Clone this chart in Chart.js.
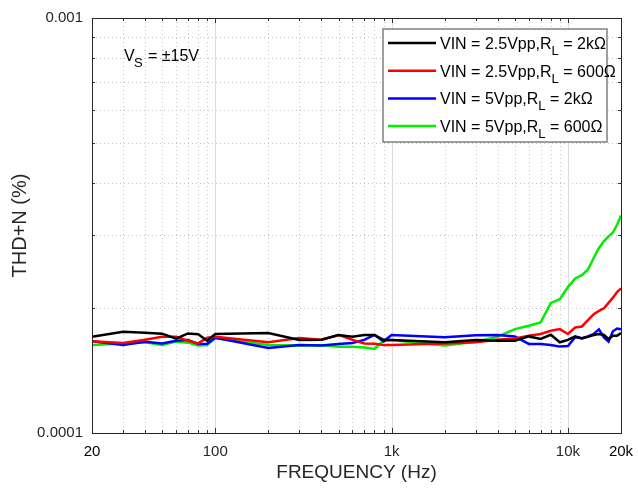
<!DOCTYPE html>
<html>
<head>
<meta charset="utf-8">
<script src="https://cdn.jsdelivr.net/npm/chart.js@4.4.1/dist/chart.umd.min.js"></script>
<style>
  body { margin: 0; background: #fff; }
  #wrap { width: 638px; height: 488px; }
</style>
</head>
<body>
<div id="wrap"><canvas id="thdChart" width="638" height="488"></canvas></div>
<script>
// frequency points (Hz)
const freq = [20, 30, 40, 50, 60, 70, 80, 90, 100, 200, 300, 400, 500, 600, 700, 800, 900,
  1000, 2000, 3000, 4000, 5000, 6000, 7000, 8000, 9000, 10000, 11000, 12000, 13000, 14000,
  15000, 16000, 17000, 18000, 19000, 20000];

// THD+N (%) per curve
const vin25_2k = [1.706e-4, 1.754e-4, 1.745e-4, 1.735e-4, 1.687e-4, 1.737e-4, 1.729e-4, 1.669e-4, 1.732e-4,
  1.742e-4, 1.676e-4, 1.678e-4, 1.723e-4, 1.706e-4, 1.723e-4, 1.723e-4, 1.676e-4, 1.676e-4, 1.654e-4,
  1.676e-4, 1.669e-4, 1.669e-4, 1.709e-4, 1.685e-4, 1.725e-4, 1.654e-4, 1.676e-4, 1.709e-4, 1.690e-4,
  1.706e-4, 1.723e-4, 1.732e-4, 1.723e-4, 1.685e-4, 1.716e-4, 1.716e-4, 1.742e-4];
const vin25_600 = [1.663e-4, 1.647e-4, 1.678e-4, 1.706e-4, 1.706e-4, 1.669e-4, 1.644e-4, 1.697e-4, 1.706e-4,
  1.654e-4, 1.694e-4, 1.678e-4, 1.723e-4, 1.676e-4, 1.644e-4, 1.641e-4, 1.630e-4, 1.630e-4, 1.644e-4,
  1.654e-4, 1.678e-4, 1.690e-4, 1.716e-4, 1.732e-4, 1.764e-4, 1.780e-4, 1.732e-4, 1.796e-4, 1.806e-4,
  1.871e-4, 1.934e-4, 1.969e-4, 1.997e-4, 2.058e-4, 2.119e-4, 2.186e-4, 2.231e-4];
const vin5_2k = [1.663e-4, 1.630e-4, 1.660e-4, 1.644e-4, 1.669e-4, 1.676e-4, 1.639e-4, 1.641e-4, 1.697e-4,
  1.603e-4, 1.630e-4, 1.624e-4, 1.639e-4, 1.648e-4, 1.676e-4, 1.723e-4, 1.663e-4, 1.723e-4, 1.700e-4,
  1.719e-4, 1.723e-4, 1.709e-4, 1.639e-4, 1.639e-4, 1.630e-4, 1.615e-4, 1.621e-4, 1.702e-4, 1.692e-4,
  1.709e-4, 1.732e-4, 1.777e-4, 1.700e-4, 1.660e-4, 1.759e-4, 1.786e-4, 1.777e-4];
const vin5_600 = [1.630e-4, 1.644e-4, 1.654e-4, 1.630e-4, 1.660e-4, 1.651e-4, 1.624e-4, 1.630e-4, 1.692e-4,
  1.630e-4, 1.624e-4, 1.627e-4, 1.614e-4, 1.614e-4, 1.608e-4, 1.594e-4, 1.669e-4, 1.676e-4, 1.624e-4,
  1.660e-4, 1.706e-4, 1.780e-4, 1.813e-4, 1.846e-4, 2.058e-4, 2.100e-4, 2.247e-4, 2.358e-4, 2.401e-4,
  2.477e-4, 2.641e-4, 2.791e-4, 2.896e-4, 2.977e-4, 3.043e-4, 3.175e-4, 3.342e-4];

// legend text: main part, subscript, tail
const legendMain = ['VIN = 2.5Vpp,R', 'VIN = 2.5Vpp,R', 'VIN = 5Vpp,R', 'VIN = 5Vpp,R'];
const legendTail = [' = 2k\u03A9', ' = 600\u03A9', ' = 2k\u03A9', ' = 600\u03A9'];
const lineColors = ['#000000', '#ff0000', '#0000ff', '#00ee00'];

// tick labels
const xTickValues = [20, 100, 1000, 10000, 20000];
const xTickText = ['20', '100', '1k', '10k', '20k'];
const yTickValues = [0.0001, 0.001];
const yTickText = ['0.0001', '0.001'];

const FONT = "'Liberation Sans', Arial, sans-serif";
const majorX = [100, 1000, 10000];

function gridValues(lo, hi) {
  const out = [];
  for (let d = Math.pow(10, Math.floor(Math.log10(lo))); d < hi; d *= 10) {
    for (let m = 1; m < 10; m++) {
      const v = Math.round(m * d * 1e6) / 1e6;
      if (v > lo * 1.0001 && v < hi * 0.9999) out.push(v);
    }
  }
  return out;
}

const framePlugin = {
  id: 'frame',
  beforeDatasetsDraw(chart) {
    const { ctx, chartArea: a, scales: { x, y } } = chart;
    ctx.save();
    ctx.lineWidth = 1;
    ctx.setLineDash([1, 3]);
    ctx.strokeStyle = '#c4c4c4';
    gridValues(20, 20000).forEach(v => {
      if (majorX.includes(v)) return;
      const px = Math.round(x.getPixelForValue(v)) + 0.5;
      ctx.beginPath(); ctx.moveTo(px, a.top); ctx.lineTo(px, a.bottom); ctx.stroke();
    });
    gridValues(0.0001, 0.001).forEach(v => {
      const py = Math.round(y.getPixelForValue(v)) + 0.5;
      ctx.beginPath(); ctx.moveTo(a.left, py); ctx.lineTo(a.right, py); ctx.stroke();
    });
    ctx.setLineDash([]);
    ctx.strokeStyle = '#dcdcdc';
    majorX.forEach(v => {
      const px = Math.round(x.getPixelForValue(v)) + 0.5;
      ctx.beginPath(); ctx.moveTo(px, a.top); ctx.lineTo(px, a.bottom); ctx.stroke();
    });
    ctx.restore();
  },
  afterDatasetsDraw(chart) {
    const { ctx, chartArea: a, scales: { x, y } } = chart;
    ctx.save();
    // inner tick marks
    ctx.strokeStyle = '#333';
    ctx.lineWidth = 1;
    gridValues(20, 20000).forEach(v => {
      const len = majorX.includes(v) ? 5 : 3;
      const px = Math.round(x.getPixelForValue(v)) + 0.5;
      ctx.beginPath();
      ctx.moveTo(px, a.top); ctx.lineTo(px, a.top + len);
      ctx.moveTo(px, a.bottom); ctx.lineTo(px, a.bottom - len);
      ctx.stroke();
    });
    gridValues(0.0001, 0.001).forEach(v => {
      const py = Math.round(y.getPixelForValue(v)) + 0.5;
      ctx.beginPath();
      ctx.moveTo(a.left, py); ctx.lineTo(a.left + 3, py);
      ctx.moveTo(a.right, py); ctx.lineTo(a.right - 3, py);
      ctx.stroke();
    });
    // frame
    ctx.strokeStyle = '#262626';
    ctx.strokeRect(Math.round(a.left) + 0.5, Math.round(a.top) + 0.5,
      Math.round(a.right - a.left), Math.round(a.bottom - a.top));

    // supply annotation
    ctx.fillStyle = '#000';
    ctx.textBaseline = 'alphabetic';
    ctx.textAlign = 'left';
    ctx.font = '16px ' + FONT;
    ctx.fillText('V', 124, 61);
    ctx.font = '13px ' + FONT;
    ctx.fillText('S', 134, 67);
    ctx.font = '16px ' + FONT;
    ctx.fillText('= \u00B115V', 148, 61);

    // legend
    const lx = 383, ly = 29, lw = 224, lh = 113;
    ctx.fillStyle = '#fff';
    ctx.fillRect(lx, ly, lw, lh);
    ctx.strokeStyle = '#808080';
    ctx.lineWidth = 1.5;
    ctx.strokeRect(lx, ly, lw, lh);
    chart.data.datasets.forEach((ds, i) => {
      const ry = 43 + i * 27.7;
      ctx.strokeStyle = ds.borderColor;
      ctx.lineWidth = 2.5;
      ctx.beginPath(); ctx.moveTo(388, ry); ctx.lineTo(436, ry); ctx.stroke();
      ctx.fillStyle = '#000';
      ctx.font = '16px ' + FONT;
      ctx.fillText(legendMain[i], 440, ry + 6);
      let tx = 440 + ctx.measureText(legendMain[i]).width;
      ctx.font = '13px ' + FONT;
      ctx.fillText('L', tx, ry + 12);
      tx += ctx.measureText('L').width;
      ctx.font = '16px ' + FONT;
      ctx.fillText(legendTail[i], tx, ry + 6);
    });
    ctx.restore();
  }
};

new Chart(document.getElementById('thdChart'), {
  type: 'line',
  data: {
    datasets: [vin25_2k, vin25_600, vin5_2k, vin5_600].map((vals, i) => ({
      label: legendMain[i] + 'L' + legendTail[i],
      data: freq.map((f, k) => ({ x: f, y: vals[k] })),
      borderColor: lineColors[i],
      borderWidth: 2.5,
      pointRadius: 0,
      tension: 0,
      fill: false
    }))
  },
  options: {
    responsive: false,
    animation: false,
    layout: { padding: { left: 0, right: 17, top: 15, bottom: 0 } },
    plugins: { legend: { display: false }, tooltip: { enabled: false } },
    scales: {
      x: {
        type: 'logarithmic', min: 20, max: 20000,
        afterBuildTicks: s => { s.ticks = xTickValues.map(v => ({ value: v })); },
        afterFit: s => { s.height = 55; s.paddingLeft = 0; s.paddingRight = 0; },
        grid: { display: false, drawTicks: false },
        border: { display: false },
        ticks: {
          autoSkip: false, maxRotation: 0, padding: 10,
          font: { family: FONT, size: 15 },
          color: c => (c.tick && (c.tick.value === 20 || c.tick.value === 20000)) ? '#000' : '#262626',
          callback: v => xTickText[xTickValues.indexOf(v)] ?? ''
        },
        title: {
          display: true, text: 'FREQUENCY (Hz)', color: '#262626',
          font: { family: FONT, size: 19 }, padding: { top: 0, bottom: 4 }
        }
      },
      y: {
        type: 'logarithmic', min: 0.0001, max: 0.001,
        afterBuildTicks: s => { s.ticks = yTickValues.map(v => ({ value: v })); },
        afterFit: s => { s.width = 92; },
        grid: { display: false, drawTicks: false },
        border: { display: false },
        ticks: {
          padding: 9, crossAlign: 'near',
          font: { family: FONT, size: 15 },
          color: '#262626',
          callback: v => {
            const k = yTickValues.findIndex(t => Math.abs(t - v) < t * 1e-6);
            return k >= 0 ? yTickText[k] : '';
          }
        },
        title: {
          display: true, text: 'THD+N (%)', color: '#262626',
          font: { family: FONT, size: 20 }, padding: { top: 8, bottom: 0 }
        }
      }
    }
  },
  plugins: [framePlugin]
});
</script>
</body>
</html>
